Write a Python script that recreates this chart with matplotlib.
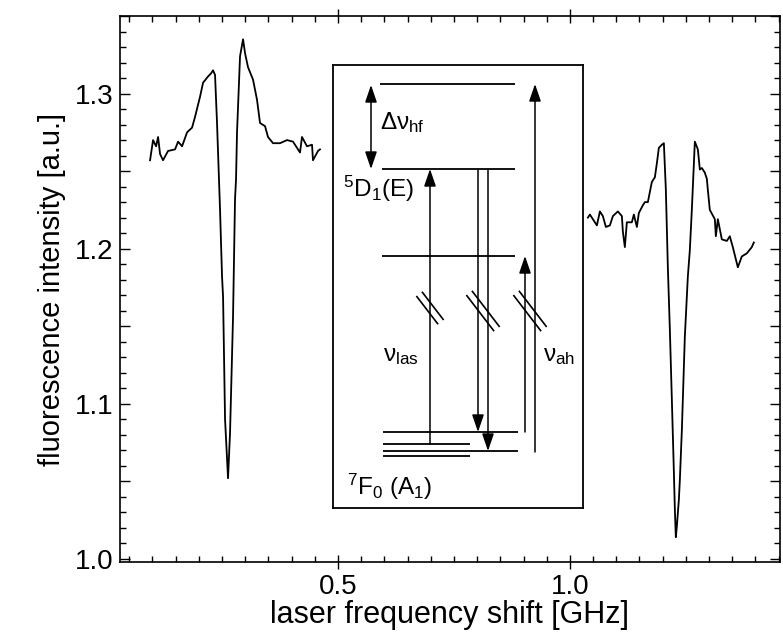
import matplotlib
matplotlib.use("Agg")
import matplotlib.pyplot as plt
from matplotlib.ticker import MultipleLocator, FuncFormatter

plt.rcParams['font.family'] = ['Liberation Sans', 'DejaVu Sans']
plt.rcParams['mathtext.fontset'] = 'custom'
plt.rcParams['mathtext.rm'] = 'Liberation Sans'
plt.rcParams['mathtext.it'] = 'Liberation Sans'
plt.rcParams['mathtext.bf'] = 'Liberation Sans:bold'

# ---------------- data ----------------
trace1_x = [0.0948, 0.1013, 0.1078, 0.1121, 0.1164, 0.1228, 0.1336, 0.1487, 0.1552, 0.1638,
            0.1746, 0.1853, 0.1918, 0.2026, 0.2091, 0.2198, 0.2263, 0.2306, 0.2349, 0.2392,
            0.2457, 0.2500, 0.2522, 0.2565, 0.2629, 0.2672, 0.2737, 0.2780, 0.2802, 0.2823,
            0.2888, 0.2953, 0.2996, 0.3060, 0.3168, 0.3254, 0.3319, 0.3427, 0.3491, 0.3599,
            0.3750, 0.3901, 0.4030, 0.4181, 0.4224, 0.4332, 0.4440, 0.4461, 0.4569, 0.4612]
trace1_y = [1.257, 1.270, 1.266, 1.272, 1.261, 1.257, 1.263, 1.264, 1.269, 1.266,
            1.275, 1.278, 1.285, 1.298, 1.307, 1.311, 1.313, 1.315, 1.312, 1.281,
            1.225, 1.182, 1.169, 1.090, 1.052, 1.081, 1.156, 1.232, 1.245, 1.275,
            1.324, 1.335, 1.326, 1.317, 1.309, 1.296, 1.281, 1.279, 1.272, 1.268,
            1.268, 1.270, 1.269, 1.262, 1.272, 1.266, 1.267, 1.257, 1.263, 1.264]

trace2_x = [1.0388, 1.0431, 1.0496, 1.0582, 1.0647, 1.0711, 1.0776, 1.0862, 1.0927, 1.1034,
            1.1121, 1.1142, 1.1185, 1.1228, 1.1336, 1.1379, 1.1444, 1.1487, 1.1573, 1.1616,
            1.1681, 1.1767, 1.1832, 1.1875, 1.1918, 1.1983, 1.2026, 1.2069, 1.2112, 1.2155,
            1.2198, 1.2241, 1.2263, 1.2284, 1.2306, 1.2349, 1.2371, 1.2414, 1.2478, 1.2543,
            1.2586, 1.2629, 1.2672, 1.2694, 1.2759, 1.2802, 1.2845, 1.2909, 1.2953, 1.2974,
            1.3017, 1.3125, 1.3147, 1.3190, 1.3276, 1.3384, 1.3448, 1.3513, 1.3621, 1.3707,
            1.3815, 1.3922, 1.3966]
trace2_y = [1.220, 1.222, 1.219, 1.215, 1.224, 1.221, 1.214, 1.215, 1.221, 1.224,
            1.221, 1.211, 1.201, 1.217, 1.217, 1.222, 1.214, 1.223, 1.228, 1.230,
            1.230, 1.243, 1.246, 1.255, 1.265, 1.267, 1.268, 1.238, 1.188, 1.148,
            1.103, 1.057, 1.032, 1.014, 1.021, 1.038, 1.051, 1.083, 1.143, 1.182,
            1.199, 1.225, 1.254, 1.269, 1.264, 1.251, 1.252, 1.249, 1.245, 1.238,
            1.225, 1.219, 1.208, 1.219, 1.206, 1.205, 1.208, 1.201, 1.188, 1.195,
            1.197, 1.201, 1.204]

x_label = "laser frequency shift [GHz]"
y_label = "fluorescence intensity [a.u.]"

# inset energy-level diagram (inset box units, y downward)
levels_x0 = [47, 49, 49, 50, 50, 50, 50]
levels_x1 = [182, 182, 182, 185, 137, 185, 137]
levels_y = [19, 104, 191, 367, 379, 386, 391]
arrow_x = [97, 145, 155, 192, 202]
arrow_from = [379, 105, 105, 367, 387]
arrow_to = [104, 367, 386, 191, 19]
break_x = [97, 150, 197]
break_y = [243, 246, 246]
break_len = [34, 44, 44]
inset_texts = ["Δν$_{\\rm hf}$", "$^{5}$D$_{1}$(E)", "ν$_{\\rm las}$", "ν$_{\\rm ah}$", "$^{7}$F$_{0}$ (A$_{1}$)"]
inset_text_x = [47, 10, 50, 210, 14]
inset_text_y = [58, 124, 291, 291, 422]

# ---------------- figure ----------------
W, H = 783, 634
fig = plt.figure(figsize=(W / 100, H / 100), dpi=100)
ax = fig.add_axes([120 / W, 1 - 562 / H, 660 / W, 546 / H])

ax.plot(trace1_x, trace1_y, color='black', lw=1.3)
ax.plot(trace2_x, trace2_y, color='black', lw=1.3)
ax.set_xlim(0.03, 1.453)
ax.set_ylim(0.998, 1.350)

for s in ax.spines.values():
    s.set_linewidth(1.2)

ax.xaxis.set_major_locator(MultipleLocator(0.5))
ax.xaxis.set_minor_locator(MultipleLocator(0.05))
ax.xaxis.set_major_formatter(FuncFormatter(lambda v, p: f"{v:.1f}"))
ax.yaxis.set_major_locator(MultipleLocator(0.05))
ax.yaxis.set_minor_locator(MultipleLocator(0.01))
ax.yaxis.set_major_formatter(FuncFormatter(
    lambda v, p: f"{v:.1f}" if abs(round(v * 10) - v * 10) < 1e-6 else ""))
ax.tick_params(which='both', direction='in', top=True, right=True, width=1.0,
               labelsize=20)
ax.tick_params(axis='x', which='major', direction='inout', length=10, pad=4)
ax.tick_params(axis='y', which='major', length=7, pad=5)
ax.tick_params(which='minor', length=4)

ax.set_xlabel(x_label, fontsize=22, labelpad=0)
ax.set_ylabel(y_label, fontsize=21, labelpad=6)

# inset
ins = fig.add_axes([333 / W, 1 - 508 / H, 250 / W, 443 / H])
ins.set_xlim(0, 250)
ins.set_ylim(443, 0)
ins.set_xticks([])
ins.set_yticks([])
for s in ins.spines.values():
    s.set_linewidth(1.3)

for x0, x1, y in zip(levels_x0, levels_x1, levels_y):
    ins.plot([x0, x1], [y, y], color='black', lw=1.3, solid_capstyle='butt')

aprops = dict(arrowstyle='-|>,head_length=0.7,head_width=0.24', color='black',
              lw=1.1, shrinkA=0, shrinkB=0, mutation_scale=15)
for x, y0, y1 in zip(arrow_x, arrow_from, arrow_to):
    ins.annotate('', xy=(x, y1), xytext=(x, y0), arrowprops=aprops)
# hyperfine double arrow
ins.annotate('', xy=(38, 20), xytext=(38, 104),
             arrowprops=dict(arrowstyle='<|-|>,head_length=0.7,head_width=0.24',
                             color='black', lw=1.1, shrinkA=0, shrinkB=0,
                             mutation_scale=15))

# break marks (double slashes), direction down-right
ux, uy = 0.608, 0.793
px, py = 0.793, -0.608
for bx, by, L in zip(break_x, break_y, break_len):
    for off in (-3.5, 3.5):
        cx, cy = bx + off * px, by + off * py
        ins.plot([cx - ux * L / 2, cx + ux * L / 2],
                 [cy - uy * L / 2, cy + uy * L / 2], color='black', lw=1.2)

for t, x, y in zip(inset_texts, inset_text_x, inset_text_y):
    ins.text(x, y, t, fontsize=17.5, ha='left', va='center')

fig.savefig('out.png', dpi=100)
